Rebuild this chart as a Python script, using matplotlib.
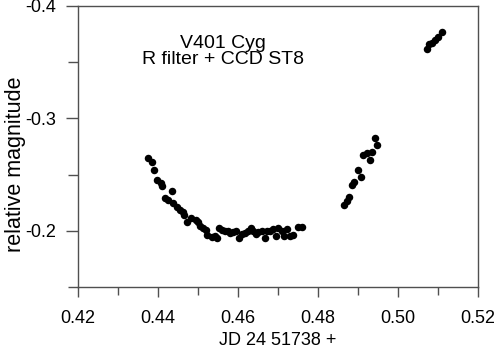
import matplotlib
matplotlib.use("Agg")
import matplotlib.pyplot as plt
from matplotlib.ticker import MultipleLocator, FuncFormatter

plt.rcParams['font.family'] = ['Liberation Sans', 'DejaVu Sans']

# JD 2451738 + fraction, relative magnitude
jd = [0.43758, 0.43842, 0.4390, 0.43983, 0.44067, 0.44108, 0.44358, 0.44175,
      0.44242, 0.44383, 0.44467, 0.4455, 0.44617, 0.44658, 0.44733, 0.44825,
      0.4495, 0.45008, 0.4505, 0.45117, 0.452, 0.45233, 0.45342, 0.45425,
      0.45483, 0.45533, 0.45592, 0.45675, 0.45742, 0.458, 0.45883, 0.4595,
      0.46033, 0.46092, 0.46175, 0.46258, 0.46325, 0.46383, 0.4645, 0.46508,
      0.46592, 0.46675, 0.46733, 0.468, 0.46883, 0.4695, 0.47008, 0.47092,
      0.4715, 0.47217, 0.473, 0.47383, 0.47508, 0.47592,
      0.48658, 0.48718, 0.48783, 0.48858, 0.489, 0.49008, 0.49075, 0.49133,
      0.49218, 0.493, 0.49343, 0.49425, 0.49483,
      0.50717, 0.50783, 0.50842, 0.50925, 0.51008, 0.51092]
mag = [-0.2652, -0.2613, -0.2544, -0.2448, -0.2428, -0.2395, -0.2356, -0.2290,
       -0.2278, -0.2245, -0.2209, -0.2186, -0.2170, -0.2143, -0.2081, -0.2110,
       -0.2099, -0.2074, -0.2042, -0.2024, -0.2006, -0.1964, -0.1946, -0.1955,
       -0.1940, -0.2024, -0.2006, -0.2000, -0.1994, -0.1976, -0.1985, -0.1994,
       -0.1940, -0.1970, -0.1976, -0.1994, -0.2024, -0.2000, -0.1970, -0.1985,
       -0.2000, -0.1940, -0.1994, -0.2000, -0.2015, -0.1955, -0.2024, -0.2000,
       -0.1955, -0.2015, -0.1955, -0.1964, -0.2030, -0.2036,
       -0.2233, -0.2269, -0.2305, -0.2404, -0.2433, -0.2538, -0.2478, -0.2673,
       -0.2688, -0.2628, -0.2702, -0.2822, -0.2762,
       -0.3621, -0.3659, -0.3674, -0.3698, -0.3728, -0.3773]

xticks = [0.42, 0.44, 0.46, 0.48, 0.50, 0.52]
yticks = [-0.4, -0.3, -0.2]

fig = plt.figure(figsize=(4.94, 3.51), dpi=100)
ax = fig.add_axes([78/494, 1-287/351, 400/494, 281/351])

ax.plot(jd, mag, 'o', color='black', markersize=5.4, markeredgewidth=0)

ax.set_xlim(0.42, 0.52)
ax.set_ylim(-0.15, -0.4)
ax.set_xticks(xticks)
ax.xaxis.set_minor_locator(MultipleLocator(0.01))
ax.set_yticks(yticks)
ax.yaxis.set_minor_locator(MultipleLocator(0.05))
ax.xaxis.set_major_formatter(FuncFormatter(lambda v, p: f"{v:.2f}"))
ax.yaxis.set_major_formatter(FuncFormatter(lambda v, p: f"{v:.1f}".replace('\u2212', '-')))

spine_col = '#505050'
for s in ax.spines.values():
    s.set_color(spine_col)
    s.set_linewidth(1.0)
ax.tick_params(which='both', direction='out', colors=spine_col, labelcolor='black', width=1.0)
ax.tick_params(which='major', length=7.5, labelsize=13, pad=9)
ax.tick_params(which='minor', length=5.8)
ax.tick_params(axis='y', which='major', length=8.5, pad=7)
ax.tick_params(axis='y', which='minor', length=7)

ax.set_xlabel('JD 24 51738 +', fontsize=13, labelpad=4)
ax.set_ylabel('relative magnitude', fontsize=15.5, va='center')
ax.yaxis.set_label_coords((16 - 78) / 400, 1 - (164 - 6) / 281)

ax.text(0.3625, 0.865, 'V401 Cyg', fontsize=14, ha='center', va='center',
        transform=ax.transAxes)
ax.text(0.3625, 0.808, 'R filter + CCD ST8', fontsize=14, ha='center', va='center',
        transform=ax.transAxes)

fig.savefig('out.png', dpi=100)
